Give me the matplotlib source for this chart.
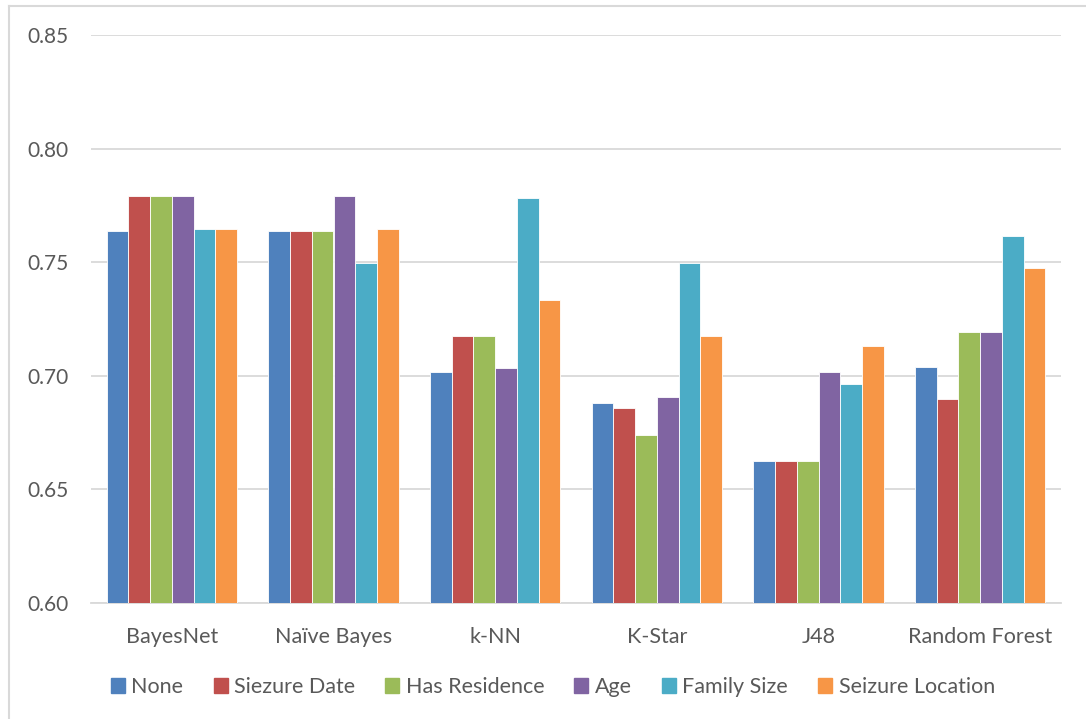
import matplotlib
matplotlib.use("Agg")
import matplotlib.pyplot as plt
import numpy as np
from matplotlib.lines import Line2D

categories = ["BayesNet", "Naïve Bayes", "k-NN", "K-Star", "J48", "Random Forest"]
series_names = ["None", "Siezure Date", "Has Residence", "Age", "Family Size", "Seizure Location"]
none_vals = [0.7637, 0.7637, 0.7017, 0.6879, 0.6624, 0.7037]
siezure_date = [0.7791, 0.7637, 0.7177, 0.6857, 0.6624, 0.6897]
has_residence = [0.7791, 0.7637, 0.7177, 0.6739, 0.6624, 0.7191]
age = [0.7791, 0.7791, 0.7036, 0.6907, 0.7018, 0.7191]
family_size = [0.7645, 0.7495, 0.7781, 0.7495, 0.6964, 0.7615]
seizure_location = [0.7645, 0.7645, 0.7334, 0.7175, 0.7131, 0.7473]
yticks = [0.60, 0.65, 0.70, 0.75, 0.80, 0.85]

series = [none_vals, siezure_date, has_residence, age, family_size, seizure_location]
colors = ["#4F81BD", "#C0504D", "#9BBB59", "#8064A2", "#4BACC6", "#F79646"]

plt.rcParams['font.family'] = ['Lato', 'DejaVu Sans']
fig = plt.figure(figsize=(10.86, 7.19), dpi=100)
ax = fig.add_axes([91/1086, 116/719, 970/1086, 568/719])

x = np.arange(len(categories))
n = len(series)
bw = 0.805 / n
for i, (vals, c, name) in enumerate(zip(series, colors, series_names)):
    offs = (i - (n - 1) / 2) * bw
    ax.bar(x + offs, np.array(vals) - 0.60, bw, bottom=0.60, color=c, label=name,
           edgecolor="white", linewidth=0.6, zorder=3)

ax.set_ylim(0.60, 0.85)
ax.set_xlim(-0.5, len(categories) - 0.5)
ax.set_yticks(yticks)
ax.set_yticklabels([f"{v:.2f}" for v in yticks])
ax.set_xticks(x)
ax.set_xticklabels(categories)
ax.grid(axis='y', color="#D9D9D9", linewidth=1.3, zorder=0)
for s in ["top", "right", "left"]:
    ax.spines[s].set_visible(False)
ax.spines["bottom"].set_color("#D9D9D9")
ax.spines["bottom"].set_linewidth(1.3)
ax.tick_params(axis='both', length=0, colors="#595959")
ax.tick_params(axis='y', pad=16, labelsize=15)
ax.tick_params(axis='x', pad=17, labelsize=15.5)

handles = [plt.Rectangle((0, 0), 1, 1, color=c) for c in colors]
fig.legend(handles, series_names, loc="center", bbox_to_anchor=(553/1086, 1 - 687/719),
           ncol=6, frameon=False, fontsize=15.5, handlelength=0.65, handleheight=0.65,
           handletextpad=0.3, columnspacing=1.4, labelcolor="#595959")

fig.add_artist(Line2D([9/1086, 9/1086], [0, 1 - 6/719], transform=fig.transFigure,
                      color="#D9D9D9", linewidth=1.5))
fig.add_artist(Line2D([9/1086, 1], [1 - 6/719, 1 - 6/719], transform=fig.transFigure,
                      color="#D9D9D9", linewidth=1.5))

fig.savefig("out.png", dpi=100)
